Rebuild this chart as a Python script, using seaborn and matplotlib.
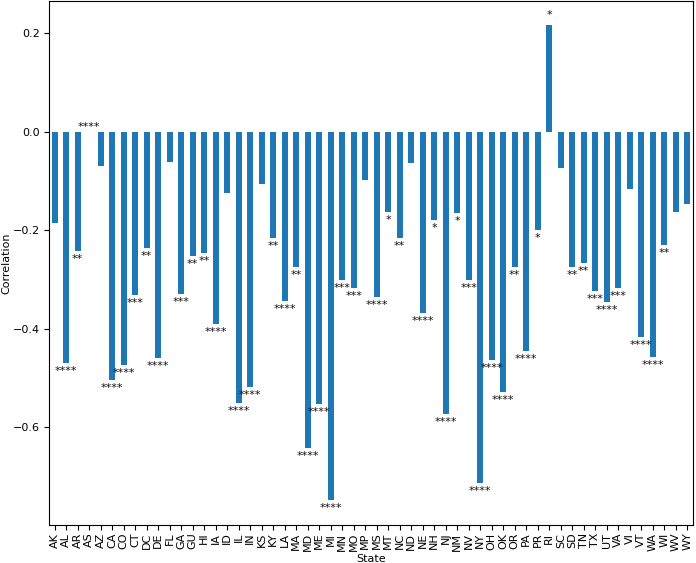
import matplotlib
matplotlib.use("Agg")
import matplotlib.pyplot as plt
import seaborn as sns
import pandas as pd

states = ["AK", "AL", "AR", "AS", "AZ", "CA", "CO", "CT", "DC", "DE", "FL", "GA", "GU", "HI",
          "IA", "ID", "IL", "IN", "KS", "KY", "LA", "MA", "MD", "ME", "MI", "MN", "MO", "MP",
          "MS", "MT", "NC", "ND", "NE", "NH", "NJ", "NM", "NV", "NY", "OH", "OK", "OR", "PA",
          "PR", "RI", "SC", "SD", "TN", "TX", "UT", "VA", "VI", "VT", "WA", "WI", "WV", "WY"]

correlation = [-0.185, -0.469, -0.243, 0.0, -0.070, -0.504, -0.473, -0.331, -0.236, -0.460,
               -0.062, -0.329, -0.253, -0.247, -0.391, -0.125, -0.550, -0.518, -0.106, -0.216,
               -0.343, -0.274, -0.641, -0.552, -0.748, -0.300, -0.318, -0.098, -0.335, -0.163,
               -0.216, -0.064, -0.368, -0.179, -0.573, -0.165, -0.300, -0.712, -0.463, -0.529,
               -0.274, -0.445, -0.199, 0.216, -0.074, -0.274, -0.267, -0.324, -0.345, -0.318,
               -0.117, -0.417, -0.458, -0.230, -0.163, -0.147]

significance = ["", "****", "**", "****", "", "****", "****", "***", "**", "****",
                "", "***", "**", "**", "****", "", "****", "****", "", "**",
                "****", "**", "****", "****", "****", "***", "***", "", "****", "*",
                "**", "", "****", "*", "****", "*", "***", "****", "****", "****",
                "**", "****", "*", "*", "", "**", "**", "***", "****", "***",
                "", "****", "****", "**", "", ""]

df = pd.DataFrame({"State": states, "Correlation": correlation})

fig = plt.figure(figsize=(6.96, 5.63), dpi=100)
ax = fig.add_axes([0.0704, 0.0675, 0.9253, 0.9305])

sns.barplot(data=df, x="State", y="Correlation", color="#1f77b4", saturation=1,
            width=0.5, ax=ax)

px = 0.72  # points per pixel at dpi 100
for patch, v, s in zip(ax.patches, correlation, significance):
    if not s:
        continue
    xc = patch.get_x() + patch.get_width() / 2
    if v < 0:
        off = -11.0 * px
    elif v > 0:
        off = 7.0 * px
    else:
        off = 2.0 * px
    ax.annotate(s, xy=(xc, v), xytext=(0, off), textcoords="offset points",
                ha="center", va="baseline", fontsize=8, color="#111111")

ax.set_xlim(-0.5, len(states) - 0.5)
ax.set_ylim(-0.798, 0.265)
ax.set_yticks([-0.6, -0.4, -0.2, 0.0, 0.2])
ax.tick_params(axis="x", labelrotation=90, labelsize=8, pad=2)
ax.tick_params(axis="y", labelsize=8, pad=3)
ax.set_xlabel("State", fontsize=8, labelpad=2)
ax.set_ylabel("Correlation", fontsize=8, labelpad=1)

fig.savefig("out.png", dpi=100)
